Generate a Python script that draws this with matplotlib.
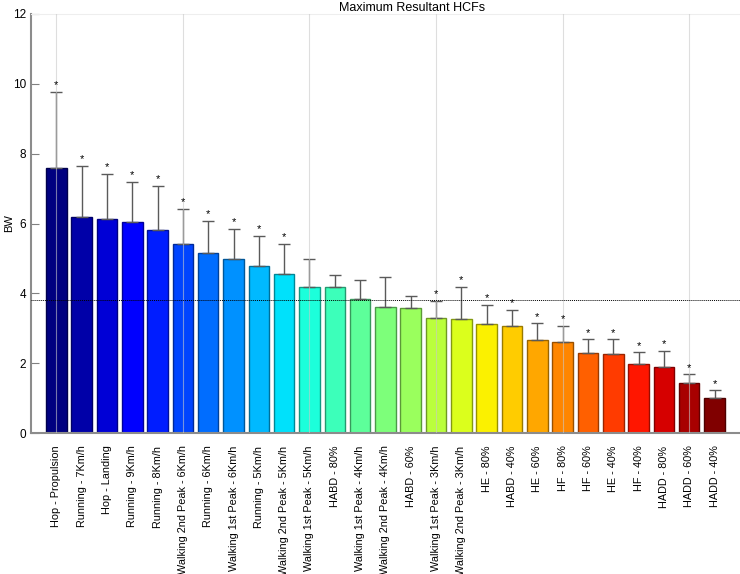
import numpy as np
import matplotlib
matplotlib.use("Agg")
import matplotlib.pyplot as plt

plt.rcParams["font.family"] = ["Liberation Sans", "DejaVu Sans"]

labels = ["Hop - Propulsion", "Running - 7Km/h", "Hop - Landing", "Running - 9Km/h",
          "Running - 8Km/h", "Walking 2nd Peak - 6Km/h", "Running - 6Km/h",
          "Walking 1st Peak - 6Km/h", "Running - 5Km/h", "Walking 2nd Peak - 5Km/h",
          "Walking 1st Peak - 5Km/h", "HABD - 80%", "Walking 1st Peak - 4Km/h",
          "Walking 2nd Peak - 4Km/h", "HABD - 60%", "Walking 1st Peak - 3Km/h",
          "Walking 2nd Peak - 3Km/h", "HE - 80%", "HABD - 40%", "HE - 60%", "HF - 80%",
          "HF - 60%", "HE - 40%", "HF - 40%", "HADD - 80%", "HADD - 60%", "HADD - 40%"]
means = [7.59, 6.20, 6.14, 6.04, 5.82, 5.40, 5.15, 4.99, 4.77, 4.56, 4.19, 4.19, 3.83,
         3.60, 3.57, 3.30, 3.26, 3.11, 3.07, 2.66, 2.61, 2.29, 2.25, 1.99, 1.90, 1.42, 0.99]
err_top = [9.76, 7.66, 7.42, 7.18, 7.07, 6.41, 6.07, 5.85, 5.64, 5.41, 4.98, 4.53, 4.38,
           4.46, 3.92, 3.78, 4.19, 3.67, 3.52, 3.14, 3.07, 2.68, 2.68, 2.31, 2.34, 1.68, 1.22]
significant = [1] * 10 + [0] * 5 + [1] * 12
reference = 3.82

x = np.arange(1, len(means) + 1)
sd = np.array(err_top) - np.array(means)
colors = plt.cm.jet(np.linspace(0, 1, len(means)))
edges = colors.copy()
edges[:, :3] = edges[:, :3] * 0.6

fig = plt.figure(figsize=(7.4, 5.74), dpi=100)
ax = fig.add_axes([31 / 740, 1 - 433 / 574, (793 - 31) / 740, (433 - 14) / 574])

ax.bar(x, means, width=0.81, color=colors, edgecolor=edges, linewidth=1, zorder=2)
ax.errorbar(x, means, yerr=[np.zeros_like(sd), sd], fmt="none", ecolor="#5a5a5a",
            elinewidth=1, capsize=4, capthick=1, zorder=3)
for xi, top, s in zip(x, err_top, significant):
    if s:
        ax.text(xi, top + 0.05, "*", ha="center", va="bottom", fontsize=8, zorder=4)

for g in [1, 6, 11, 16, 21, 26]:
    ax.axvline(g, color="#c8c8c8", linewidth=0.8, alpha=0.6, zorder=3)
ax.axhline(reference, color="black", linestyle=(0, (1, 1)), linewidth=0.7, zorder=4)

ax.set_xlim(0, 30.1)
ax.set_ylim(0, 12)
ax.set_yticks(range(0, 13, 2))
ax.set_xticks(x)
ax.set_xticklabels(labels, rotation=90, fontsize=7.8)
ax.tick_params(axis="y", direction="in", labelsize=8.5, length=6, color="#808080")
ax.tick_params(axis="x", length=0, pad=9)
ax.set_ylabel("BW", fontsize=8)
ax.yaxis.set_label_coords(-0.022, 0.5)
ax.set_title("Maximum Resultant HCFs", fontsize=9, pad=2)

for side in ["left", "bottom"]:
    ax.spines[side].set_color("#8c8c8c")
    ax.spines[side].set_linewidth(1.5)
ax.spines["top"].set_color("#eeeeee")
ax.spines["right"].set_visible(False)

fig.savefig("out.png", dpi=100)
